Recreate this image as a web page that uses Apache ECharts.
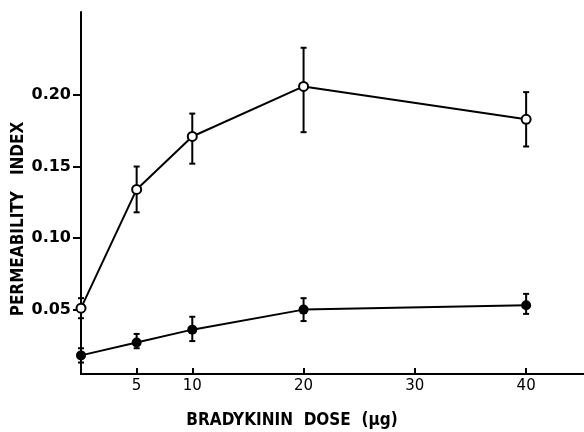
<!DOCTYPE html>
<html>
<head>
<meta charset="utf-8">
<script src="https://cdn.jsdelivr.net/npm/echarts@6/dist/echarts.min.js"></script>
<style>html,body{margin:0;padding:0;background:#fff}#c{width:584px;height:432px}</style>
</head>
<body>
<div id="c"></div>
<script>
// Data
var doses = [0, 5, 10, 20, 40];
var openMean = [0.051, 0.134, 0.171, 0.206, 0.183];
var openLow  = [0.044, 0.118, 0.152, 0.174, 0.164];
var openHigh = [0.058, 0.150, 0.187, 0.233, 0.202];
var filledMean = [0.018, 0.027, 0.036, 0.050, 0.053];
var filledLow  = [0.013, 0.023, 0.028, 0.042, 0.047];
var filledHigh = [0.023, 0.033, 0.045, 0.058, 0.061];
var xTicks = [5, 10, 20, 30, 40];
var yTicks = [0.05, 0.10, 0.15, 0.20];

function pairs(xs, ys) { return xs.map(function (x, i) { return [x, ys[i]]; }); }
function errData(xs, lo, hi) { return xs.map(function (x, i) { return [x, lo[i], hi[i]]; }); }

function errRender(params, api) {
  var x = api.value(0);
  var p1 = api.coord([x, api.value(1)]);
  var p2 = api.coord([x, api.value(2)]);
  var w = 3;
  var st = { stroke: '#000', lineWidth: 2 };
  return {
    type: 'group',
    children: [
      { type: 'line', shape: { x1: p1[0], y1: p1[1], x2: p2[0], y2: p2[1] }, style: st },
      { type: 'line', shape: { x1: p1[0] - w, y1: p1[1], x2: p1[0] + w, y2: p1[1] }, style: st },
      { type: 'line', shape: { x1: p2[0] - w, y1: p2[1], x2: p2[0] + w, y2: p2[1] }, style: st }
    ]
  };
}

var chart = echarts.init(document.getElementById('c'));
chart.setOption({
  backgroundColor: '#fff',
  animation: false,
  grid: { left: 81, right: 0, top: 12, bottom: 58 },
  xAxis: {
    type: 'value', min: 0, max: 45.2,
    axisLine: { lineStyle: { color: '#000', width: 2 } },
    axisTick: { show: true, inside: true, length: 6, customValues: xTicks, lineStyle: { color: '#000', width: 2 } },
    axisLabel: { customValues: xTicks, color: '#000', fontFamily: 'DejaVu Sans', fontSize: 15, margin: 5 },
    splitLine: { show: false }
  },
  yAxis: {
    type: 'value', min: 0.005, max: 0.258,
    axisLine: { show: true, lineStyle: { color: '#000', width: 2 } },
    axisTick: { show: true, inside: false, length: 8, customValues: yTicks, lineStyle: { color: '#000', width: 2 } },
    axisLabel: { customValues: yTicks, color: '#000', fontFamily: 'DejaVu Sans', fontWeight: 'bold', fontSize: 16, margin: 10,
      formatter: function (v) { return v.toFixed(2); } },
    splitLine: { show: false }
  },
  graphic: [
    { type: 'text', x: 292, y: 421, style: { text: 'BRADYKININ  DOSE  (μg)', font: 'bold 17px "DejaVu Sans Condensed"', fill: '#000', align: 'center', verticalAlign: 'middle' } },
    { type: 'text', x: 19, y: 219, rotation: Math.PI / 2, style: { text: 'PERMEABILITY   INDEX', font: 'bold 17px "DejaVu Sans Condensed"', fill: '#000', align: 'center', verticalAlign: 'middle' } }
  ],
  series: [
    { type: 'custom', renderItem: errRender, data: errData(doses, openLow, openHigh), z: 1 },
    { type: 'custom', renderItem: errRender, data: errData(doses, filledLow, filledHigh), z: 1 },
    { type: 'line', data: pairs(doses, openMean), symbol: 'circle', symbolSize: 9,
      lineStyle: { color: '#000', width: 2 }, itemStyle: { color: '#fff', borderColor: '#000', borderWidth: 2 }, z: 3 },
    { type: 'line', data: pairs(doses, filledMean), symbol: 'circle', symbolSize: 10,
      lineStyle: { color: '#000', width: 2 }, itemStyle: { color: '#000', borderColor: '#000', borderWidth: 0 }, z: 3 }
  ]
});
</script>
</body>
</html>
